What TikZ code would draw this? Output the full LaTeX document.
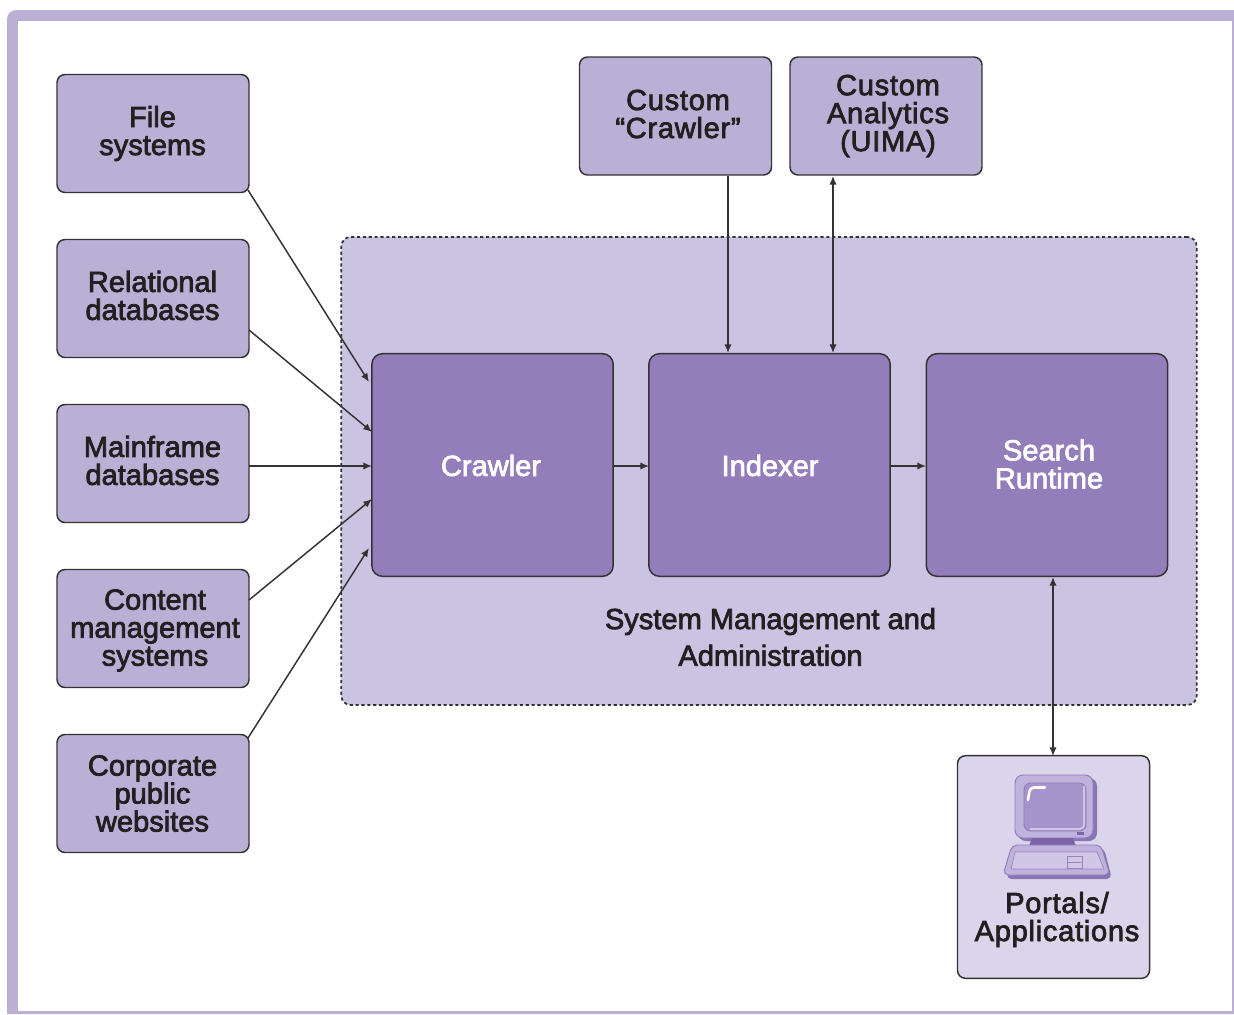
\documentclass[tikz,border=0pt]{standalone}
\usepackage{fontspec}
\setmainfont{Liberation Sans}[FakeBold=2.5]
\usetikzlibrary{arrows.meta,calc}
\definecolor{frameC}{HTML}{BBAFD5}
\definecolor{boxC}{HTML}{BAAFD5}
\definecolor{panelC}{HTML}{CBC3E2}
\definecolor{darkC}{HTML}{937DBA}
\definecolor{portalC}{HTML}{DAD5EA}
\definecolor{lineC}{HTML}{333333}
\definecolor{textC}{HTML}{231F20}
\definecolor{monA}{HTML}{BFB2DC}
\definecolor{monB}{HTML}{A594CB}
\definecolor{monC}{HTML}{7C64AB}
\definecolor{monD}{HTML}{CFC7E5}
\tikzset{
  x=0.75pt,y=-0.75pt,
  boxbase/.style={draw=lineC,line width=1.1pt,rounded corners=6pt,inner sep=0pt,anchor=center},
  srcbox/.style={boxbase,fill=boxC,minimum width=144pt,minimum height=88.5pt},
  topbox/.style={boxbase,fill=boxC,minimum width=144pt,minimum height=88.5pt},
  corebox/.style={boxbase,fill=darkC,minimum width=181pt,minimum height=167pt,rounded corners=8pt},
  lbl/.style={text=textC,font=\fontsize{21.8}{21}\selectfont,align=center,inner sep=0pt},
  widelbl/.style={lbl,font=\fontsize{21.8}{21}\selectfont\addfontfeature{LetterSpace=2.5}},
  corelbl/.style={lbl,text=white},
  conn/.style={draw=lineC,line width=1.1pt,-{Latex[length=6.5pt,width=5.5pt]}},
  conn2/.style={draw=lineC,line width=1.1pt,{Latex[length=6.5pt,width=5.5pt]}-{Latex[length=6.5pt,width=5.5pt]}},
}
\begin{document}
\begin{tikzpicture}
\useasboundingbox (0,0) rectangle (1234,1014);
\fill[white] (0,0) rectangle (1234,1014);
% frame
\fill[frameC] (7,1014) -- (7,20) .. controls (7,13) and (11,10) .. (18,10) -- (1234,10) -- (1234,1014) -- cycle;
\fill[white] (18,1011) -- (18,20.5) -- (1232,20.5) -- (1232,1011) -- cycle;
% panel
\node[draw=lineC,line width=1.3pt,dash pattern=on 2.4pt off 2pt,fill=panelC,rounded corners=7pt,minimum width=641.5pt,minimum height=351pt,inner sep=0pt] (panel) at (769,471) {};
% sources
\node[srcbox] (fs) at (153,133.5) {};
\node[srcbox] (rd) at (153,298.5) {};
\node[srcbox] (md) at (153,463.5) {};
\node[srcbox] (cm) at (153,628.5) {};
\node[srcbox] (cp) at (153,793.5) {};
\node[lbl] (fst) at (152.5,133.5) {File\\systems};
\node[lbl] (rdt) at (152.5,295.5) {Relational\\databases};
\node[lbl] (mdt) at (152.5,460.5) {Mainframe\\databases};
\node[lbl] (cmt) at (155,630.5) {Content\\management\\systems};
\node[lbl] (cpt) at (152.5,793.5) {Corporate\\public\\websites};
% top boxes
\node[topbox] (cc) at (675.5,116) {};
\node[topbox] (ca) at (886,116) {};
\node[widelbl] (cct) at (678,114) {Custom\\“Crawler”};
\node[widelbl] (cat) at (888,116) {Custom\\Analytics\\(UIMA)};
% core
\node[corebox] (cr) at (492.5,465) {};
\node[corebox] (ix) at (769.5,465) {};
\node[corebox] (sr) at (1047,465) {};
\node[corelbl] (crt) at (491,465.5) {Crawler};
\node[corelbl] (ixt) at (770,465.5) {Indexer};
\node[corelbl] (srt) at (1049,464) {Search\\Runtime};
\node[lbl,font=\fontsize{21.8}{27.5}\selectfont] (sm) at (770.5,637) {System Management and\\Administration};
% portal
\node[boxbase,fill=portalC,minimum width=144pt,minimum height=167pt] (po) at (1053.5,867) {};
\node[widelbl] (pot) at (1057,919.5) {Portals/\\Applications};
% computer
\fill[monC!80!monA,rounded corners=6pt] (1018,778) rectangle (1097,841);
\fill[monA,draw=monC!70!monA,line width=.7pt,rounded corners=6pt] (1015,775) rectangle (1093,838);
\fill[monC] (1032,838) -- (1073,838) -- (1076,846) -- (1029,846) -- cycle;
\fill[monB,draw=monC!70!monA,line width=.7pt,rounded corners=5pt] (1024,783) rectangle (1086,831);
\draw[white,line width=2pt,line cap=round,rounded corners=3pt] (1045,787.5) -- (1030,787.5) -- (1028,800);
\draw[monD,line width=1.4pt,rounded corners=3pt] (1084,786) -- (1084,829) -- (1030,829);
\fill[monC] (1077,831.5) rectangle (1084,834.5);
\fill[monC!80!monA,rounded corners=4pt] (1015,848) -- (1104,848) -- (1112,879) -- (1006,879) -- cycle;
\fill[monA,draw=monC!70!monA,line width=.7pt,rounded corners=4pt] (1012,845) -- (1101,845) -- (1110,875) -- (1003,875) -- cycle;
\fill[monD,draw=monC!60!monA,line width=.5pt] (1015,852) -- (1097,852) -- (1104,869) -- (1011,869) -- cycle;
\draw[monC!60!monA,line width=.5pt] (1067,856) rectangle (1082,862) (1067,862) rectangle (1082,868);
% connectors
\coordinate (e1) at (369,382);
\coordinate (e2) at (372,432);
\coordinate (e3) at (372,499);
\coordinate (e4) at (369,548);
\coordinate (s1) at (248,190);
\coordinate (s2) at (249,330);
\coordinate (s3) at (249,466);
\coordinate (e5) at (372,466);
\coordinate (s4) at (249,600);
\coordinate (s5) at (248,738);
\coordinate (a1) at (613,466);
\coordinate (a2) at (649,466);
\coordinate (a3) at (890,466);
\coordinate (a4) at (926,466);
\coordinate (ccs) at (728,176);
\coordinate (ixa) at (728,353);
\coordinate (cas) at (833,176);
\coordinate (ixb) at (833,353);
\coordinate (srs) at (1053,577);
\coordinate (pon) at (1053,756);
\draw[conn] (s1) -- (e1);
\draw[conn] (s2) -- (e2);
\draw[conn] (s3) -- (e5);
\draw[conn] (s4) -- (e3);
\draw[conn] (s5) -- (e4);
\draw[conn] (a1) -- (a2);
\draw[conn] (a3) -- (a4);
\draw[conn] (ccs) -- (ixa);
\draw[conn2] (cas) -- (ixb);
\draw[conn2] (srs) -- (pon);
\end{tikzpicture}
\end{document}
